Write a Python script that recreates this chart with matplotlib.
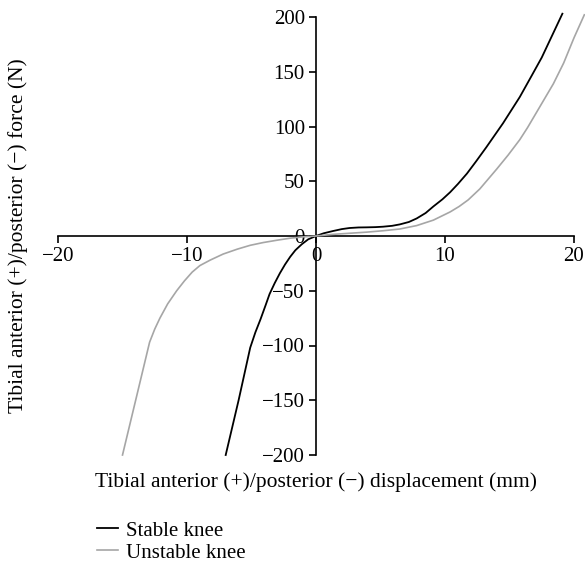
import matplotlib
matplotlib.use("Agg")
import matplotlib.pyplot as plt

plt.rcParams['font.family'] = ['Liberation Serif', 'DejaVu Serif']

stable_x = [-7.0, -6.0, -5.1, -4.7, -4.3, -3.9, -3.6, -3.2, -2.8, -2.4, -2.0, -1.6, -1.1,
            -0.6, 0.0, 0.6, 1.3, 2.0, 2.6, 3.3, 3.9, 4.6, 5.2, 5.9, 6.5, 7.2, 7.8, 8.5,
            9.1, 9.8, 10.4, 11.0, 11.7, 12.4, 13.2, 14.5, 15.8, 16.7, 17.5, 18.3, 19.1]
stable_y = [-200, -150, -102, -88, -76, -63, -53, -43, -34, -26, -19, -13, -7.5,
            -3, 0, 2.5, 4.5, 6.3, 7.3, 7.8, 7.9, 8.1, 8.5, 9.3, 10.6, 12.8, 16, 21,
            27, 33.5, 40, 47.5, 57, 68, 81, 103, 127, 146, 163, 183, 203]

unstable_x = [-15.0, -14.0, -12.9, -12.5, -12.1, -11.5, -10.8, -10.2, -9.6, -9.0, -8.2,
              -7.2, -6.1, -5.1, -4.1, -3.0, -2.0, -1.0, 0.0, 1.3, 2.6, 3.9, 5.2, 6.5,
              7.8, 9.1, 10.4, 11.1, 11.8, 12.7, 14.0, 14.9, 15.8, 16.4, 17.0, 18.4,
              19.2, 20.0, 20.8]
unstable_y = [-200, -151, -97, -85, -75, -62, -50, -41, -33, -27, -22,
              -16.5, -12, -8.5, -6, -3.8, -2, -0.8, 0, 1.5, 2.5, 3.5, 4.8, 6.4,
              9.5, 14.5, 22, 27, 33, 43, 61, 74, 88, 99, 111, 139,
              158, 181, 202]

xticks = [-20, -10, 0, 10, 20]
yticks = [-200, -150, -100, -50, 0, 50, 100, 150, 200]

W, H = 585, 564
fig = plt.figure(figsize=(W / 100, H / 100), dpi=100)
ax = fig.add_axes([58 / W, 1 - 455 / H, (574 - 58) / W, (455 - 17) / H])

l1, = ax.plot(stable_x, stable_y, color='black', lw=1.3, clip_on=False, zorder=3)
l2, = ax.plot(unstable_x, unstable_y, color='#a6a6a6', lw=1.2, clip_on=False, zorder=3)

ax.set_xlim(-20, 20)
ax.set_ylim(-200, 200)
ax.spines['left'].set_position(('data', 0))
ax.spines['bottom'].set_position(('data', 0))
ax.spines['right'].set_visible(False)
ax.spines['top'].set_visible(False)
for s in ('left', 'bottom'):
    ax.spines[s].set_linewidth(1.2)
ax.set_xticks(xticks)
ax.set_yticks(yticks)
ax.tick_params(direction='out', length=5, width=1.2, labelsize=15, pad=3)
ax.patch.set_visible(False)

fig.text(316 / W, 1 - 482 / H, 'Tibial anterior (+)/posterior (\u2212) displacement (mm)',
         ha='center', va='center', fontsize=15.5)
fig.text(18 / W, 1 - 236 / H, 'Tibial anterior (+)/posterior (\u2212) force (N)',
         ha='center', va='center', rotation=90, fontsize=15.5)

fig.legend([l1, l2], ['Stable knee', 'Unstable knee'], loc='upper left',
           bbox_to_anchor=(97 / W, 1 - 521 / H), frameon=False, fontsize=15,
           borderpad=0, borderaxespad=0, handlelength=1.0, handletextpad=0.4,
           labelspacing=0.12)

fig.savefig('out.png', dpi=100)
